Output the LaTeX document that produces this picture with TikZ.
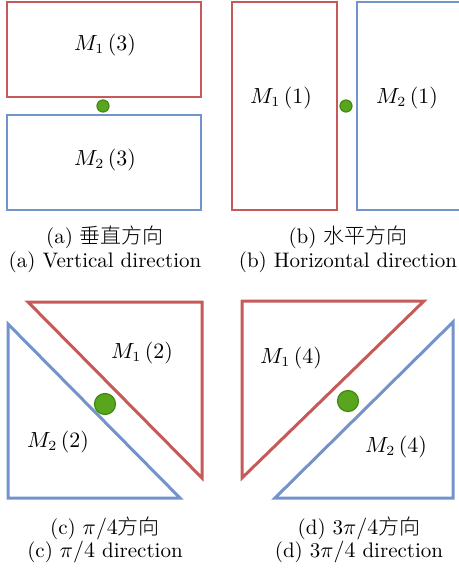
\documentclass[tikz,border=0pt]{standalone}
\usepackage{fontspec}
\newfontfamily\cjk{Noto Sans CJK SC Light}
\definecolor{mred}{HTML}{C55A58}
\definecolor{mblue}{HTML}{7393CB}
\definecolor{mgreen}{HTML}{5AA51E}
\definecolor{mdkgreen}{HTML}{3E8A12}
\tikzset{
  redline/.style={draw=mred, line width=1pt},
  blueline/.style={draw=mblue, line width=1pt},
  dot/.style={circle, fill=mgreen, draw=mdkgreen, line width=0.6pt, inner sep=0pt, minimum size=#1},
  dot/.default=6pt,
  lab/.style={inner sep=1pt},
  captxt/.style={inner sep=1pt, align=center}
}
\begin{document}
\begin{tikzpicture}[x=0.5pt, y=-0.5pt, font=\fontsize{10.5}{12}\selectfont, line join=miter]
	\useasboundingbox (0,0) rectangle (459,572);
	\clip (0,0) rectangle (459,572);
	% (a) vertical
	\draw[redline] (7,2) rectangle (201,97);
	\draw[blueline] (7,115) rectangle (201,210);
	\node[dot] (da) at (103,106) {};
	\node[lab] (ma1) at (105,45) {$M_1\,(3)$};
	\node[lab] (ma2) at (105,160) {$M_2\,(3)$};
	\node[captxt] (ca1) at (105,237) {(a) {\cjk 垂直方向}};
	\node[captxt] (ca2) at (105,262) {(a) Vertical direction};
	% (b) horizontal
	\draw[redline] (232,2) rectangle (337,210);
	\draw[blueline] (357,2) rectangle (470,210);
	\node[dot] (db) at (346,106) {};
	\node[lab] (mb1) at (281,98) {$M_1\,(1)$};
	\node[lab] (mb2) at (407,98) {$M_2\,(1)$};
	\node[captxt] (cb1) at (348,237) {(b) {\cjk 水平方向}};
	\node[captxt] (cb2) at (348,262) {(b) Horizontal direction};
	% (c) pi/4
	\draw[redline, line width=1.5pt] (28,302) -- (202,302) -- (202,478) -- cycle;
	\draw[blueline, line width=1.5pt] (8,324) -- (8,498) -- (180,498) -- cycle;
	\node[dot=10.5pt] (dc) at (105,404) {};
	\node[lab] (mc1) at (142,353) {$M_1\,(2)$};
	\node[lab] (mc2) at (58,442) {$M_2\,(2)$};
	\node[captxt] (cc1) at (105,528) {(c) $\pi/4${\cjk 方向}};
	\node[captxt] (cc2) at (105,552) {(c) $\pi/4$ direction};
	% (d) 3pi/4
	\draw[redline, line width=1.5pt] (242,301) -- (424,301) -- (242,478) -- cycle;
	\draw[blueline, line width=1.5pt] (275,498) -- (453,498) -- (453,322) -- cycle;
	\node[dot=10.5pt] (dd) at (348,401) {};
	\node[lab] (md1) at (291,358) {$M_1\,(4)$};
	\node[lab] (md2) at (396,447) {$M_2\,(4)$};
	\node[captxt] (cd1) at (359,528) {(d) 3$\pi/4${\cjk 方向}};
	\node[captxt] (cd2) at (359,552) {(d) 3$\pi/4$ direction};
\end{tikzpicture}
\end{document}
